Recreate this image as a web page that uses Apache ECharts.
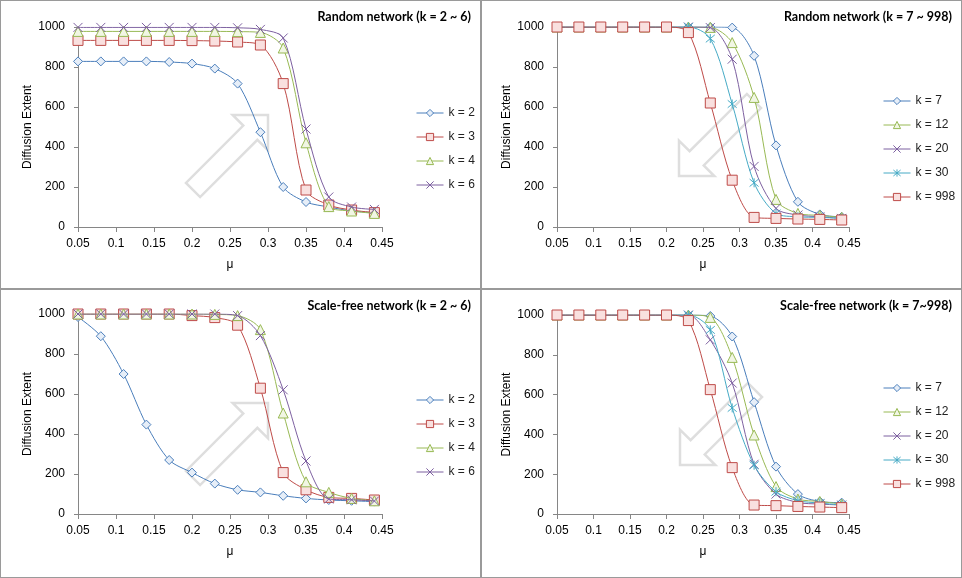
<!DOCTYPE html>
<html>
<head>
<meta charset="utf-8">
<script src="https://cdn.jsdelivr.net/npm/echarts@6/dist/echarts.min.js"></script>
<style>
html,body{margin:0;padding:0;background:#fff;}
#wrap{position:relative;width:962px;height:578px;overflow:hidden;}
.panel{position:absolute;width:479px;height:287px;border:1px solid #9a9a9a;}
</style>
</head>
<body>
<div id="wrap">
  <div class="panel" id="p1" style="left:0;top:0;"></div>
  <div class="panel" id="p2" style="left:481px;top:0;"></div>
  <div class="panel" id="p3" style="left:0;top:289px;"></div>
  <div class="panel" id="p4" style="left:481px;top:289px;"></div>
</div>
<script>
// ---- data ----
const mu = [0.05, 0.08, 0.11, 0.14, 0.17, 0.20, 0.23, 0.26, 0.29, 0.32, 0.35, 0.38, 0.41, 0.44];
const xTicks = [0.05, 0.1, 0.15, 0.2, 0.25, 0.3, 0.35, 0.4, 0.45];
const yTicks = [0, 200, 400, 600, 800, 1000];

const titles = ['Random network (k = 2 ~ 6)', 'Random network (k = 7 ~ 998)',
                'Scale-free network (k = 2 ~ 6)', 'Scale-free network (k = 7~998)'];
const lowNames = ['k = 2', 'k = 3', 'k = 4', 'k = 6'];
const highNames = ['k = 7', 'k = 12', 'k = 20', 'k = 30', 'k = 998'];

// Random network, k = 2 ~ 6
const rndK2 = [828, 828, 828, 828, 825, 817, 792, 717, 474, 200, 125, 100, 80, 72];
const rndK3 = [933, 933, 933, 933, 933, 932, 930, 925, 910, 717, 185, 110, 85, 72];
const rndK4 = [978, 978, 978, 978, 978, 978, 978, 977, 973, 895, 421, 102, 80, 68];
const rndK6 = [998, 998, 998, 998, 998, 998, 998, 996, 988, 945, 490, 150, 100, 88];
// Random network, k = 7 ~ 998
const rndK7 = [1000, 1000, 1000, 1000, 1000, 1000, 1000, 1000, 997, 856, 408, 126, 63, 51];
const rndK12 = [1000, 1000, 1000, 1000, 1000, 1000, 1000, 998, 922, 648, 138, 68, 58, 48];
const rndK20 = [1000, 1000, 1000, 1000, 1000, 1000, 1000, 997, 839, 303, 93, 60, 51, 43];
const rndK30 = [1000, 1000, 1000, 1000, 1000, 1000, 1000, 942, 615, 221, 68, 51, 48, 43];
const rndK998 = [1000, 1000, 1000, 1000, 1000, 1000, 972, 620, 234, 48, 43, 40, 38, 35];
// Scale-free network, k = 2 ~ 6
const sfK2 = [985, 889, 700, 447, 270, 207, 152, 121, 108, 91, 78, 70, 66, 62];
const sfK3 = [1000, 1000, 1000, 1000, 1000, 992, 982, 944, 629, 207, 121, 83, 78, 70];
const sfK4 = [1000, 1000, 1000, 1000, 1000, 1000, 998, 992, 922, 505, 161, 108, 78, 66];
const sfK6 = [1000, 1000, 1000, 1000, 1000, 1000, 1000, 992, 892, 621, 265, 75, 71, 65];
// Scale-free network, k = 7 ~ 998
const sfK7 = [1000, 1000, 1000, 1000, 1000, 1000, 1000, 995, 892, 562, 238, 100, 63, 57];
const sfK12 = [1000, 1000, 1000, 1000, 1000, 1000, 1000, 988, 787, 397, 138, 75, 63, 50];
const sfK20 = [1000, 1000, 1000, 1000, 1000, 1000, 1000, 875, 658, 250, 100, 58, 50, 45];
const sfK30 = [1000, 1000, 1000, 1000, 1000, 1000, 1000, 925, 533, 245, 112, 67, 55, 45];
const sfK998 = [1000, 1000, 1000, 1000, 1000, 1000, 972, 625, 233, 45, 42, 38, 35, 32];

// ---- styles ----
const ST = {
  blueDiamond: {color: '#4A7EBB', fill: '#e6eef8', symbol: 'diamond', size: 9},
  redSquare:   {color: '#BE4B48', fill: '#f9e0df', symbol: 'rect', size: 10},
  greenTri:    {color: '#98B954', fill: '#f1f6e4', symbol: 'triangle', size: 10},
  purpleX:     {color: '#7D60A0', fill: '#7D60A0', symbol: 'path://M0,0L10,10M10,0L0,10', size: 9},
  aquaStar:    {color: '#46AAC5', fill: '#46AAC5', symbol: 'path://M0,0L10,10M10,0L0,10M5,-1L5,11', size: 9}
};

const panels = [
  {id: 'p1', title: titles[0], names: lowNames, data: [rndK2, rndK3, rndK4, rndK6],
   styles: [ST.blueDiamond, ST.redSquare, ST.greenTri, ST.purpleX],
   grid: {left: 77, right: 98, top: 26, bottom: 61}, legend: {left: 410, top: 100},
   arrow: {tip: [267, 114], dir: [1, -1], len: 106}},
  {id: 'p2', title: titles[1], names: highNames, data: [rndK7, rndK12, rndK20, rndK30, rndK998],
   styles: [ST.blueDiamond, ST.greenTri, ST.purpleX, ST.aquaStar, ST.redSquare],
   grid: {left: 75, right: 112, top: 26, bottom: 61}, legend: {left: 396, top: 88},
   arrow: {tip: [197, 175], dir: [-1, 1], len: 106}},
  {id: 'p3', title: titles[2], names: lowNames, data: [sfK2, sfK3, sfK4, sfK6],
   styles: [ST.blueDiamond, ST.redSquare, ST.greenTri, ST.purpleX],
   grid: {left: 77, right: 98, top: 24, bottom: 63}, legend: {left: 410, top: 98},
   arrow: {tip: [267, 113], dir: [1, -1], len: 106}},
  {id: 'p4', title: titles[3], names: highNames, data: [sfK7, sfK12, sfK20, sfK30, sfK998],
   styles: [ST.blueDiamond, ST.greenTri, ST.purpleX, ST.aquaStar, ST.redSquare],
   grid: {left: 75, right: 112, top: 25, bottom: 63}, legend: {left: 396, top: 86},
   arrow: {tip: [198, 175], dir: [-1, 1], len: 106}}
];

function arrowPoints(a) {
  const n0 = Math.hypot(a.dir[0], a.dir[1]);
  const d = [a.dir[0] / n0, a.dir[1] / n0];
  const p = [-d[1], d[0]];
  const headLen = 25, headHalf = 25, bodyHalf = 10;
  const t = a.tip;
  const b = [t[0] - d[0] * headLen, t[1] - d[1] * headLen];
  const tail = [t[0] - d[0] * a.len, t[1] - d[1] * a.len];
  const pt = (o, s) => [o[0] + p[0] * s, o[1] + p[1] * s];
  return [t, pt(b, headHalf), pt(b, bodyHalf), pt(tail, bodyHalf), pt(tail, -bodyHalf), pt(b, -bodyHalf), pt(b, -headHalf)];
}

const fmtX = v => String(Math.round(v * 100) / 100);
const fmtY = v => String(v);
const AX = '#868686';
const TXT = {color: '#000', fontFamily: "'Liberation Sans', Arial, sans-serif", fontSize: 12};

panels.forEach(pn => {
  const chart = echarts.init(document.getElementById(pn.id), null, {renderer: 'canvas'});
  const series = pn.names.map((nm, i) => {
    const s = pn.styles[i];
    return {
      name: nm, type: 'line', smooth: 0.3,
      data: mu.map((x, j) => [x, pn.data[i][j]]),
      symbol: s.symbol, symbolSize: s.size, showAllSymbol: true,
      lineStyle: {color: s.color, width: 1},
      itemStyle: {color: s.fill, borderColor: s.color, borderWidth: 1},
      emphasis: {disabled: true}, z: 2 + i
    };
  });
  chart.setOption({
    animation: false,
    title: {text: pn.title, right: 4, top: 4,
      textStyle: {fontFamily: 'Lato, sans-serif', fontWeight: 'bold', fontSize: 12.5, color: '#000'}},
    grid: pn.grid,
    legend: {orient: 'vertical', left: pn.legend.left, top: pn.legend.top,
      data: pn.names.slice(), itemWidth: 27, itemHeight: 9, itemGap: 10,
      lineStyle: {width: 1},
      itemStyle: {borderWidth: 1},
      textStyle: Object.assign({}, TXT, {color: '#222', lineHeight: 14})},
    xAxis: {type: 'value', min: xTicks[0], max: xTicks[xTicks.length - 1], interval: 0.05,
      name: 'μ', nameLocation: 'middle', nameGap: 32, nameMoveOverlap: false, nameTextStyle: TXT,
      axisLine: {show: true, onZero: false, lineStyle: {color: AX}},
      axisTick: {show: true, length: 5, lineStyle: {color: AX}},
      axisLabel: Object.assign({formatter: fmtX, margin: 11}, TXT),
      splitLine: {show: false}},
    yAxis: {type: 'value', min: yTicks[0], max: yTicks[yTicks.length - 1], interval: 200,
      name: 'Diffusion Extent', nameLocation: 'middle', nameGap: 44, nameMoveOverlap: false, nameTextStyle: TXT,
      axisLine: {show: true, lineStyle: {color: AX}},
      axisTick: {show: true, length: 4, lineStyle: {color: AX}},
      axisLabel: Object.assign({formatter: fmtY, margin: 13}, TXT),
      splitLine: {show: false}},
    graphic: [{type: 'polygon', z: 0, silent: true,
      shape: {points: arrowPoints(pn.arrow)},
      style: {fill: 'rgba(255,255,255,0)', stroke: '#dedede', lineWidth: 2.5}}],
    series: series
  });
});
</script>
</body>
</html>
